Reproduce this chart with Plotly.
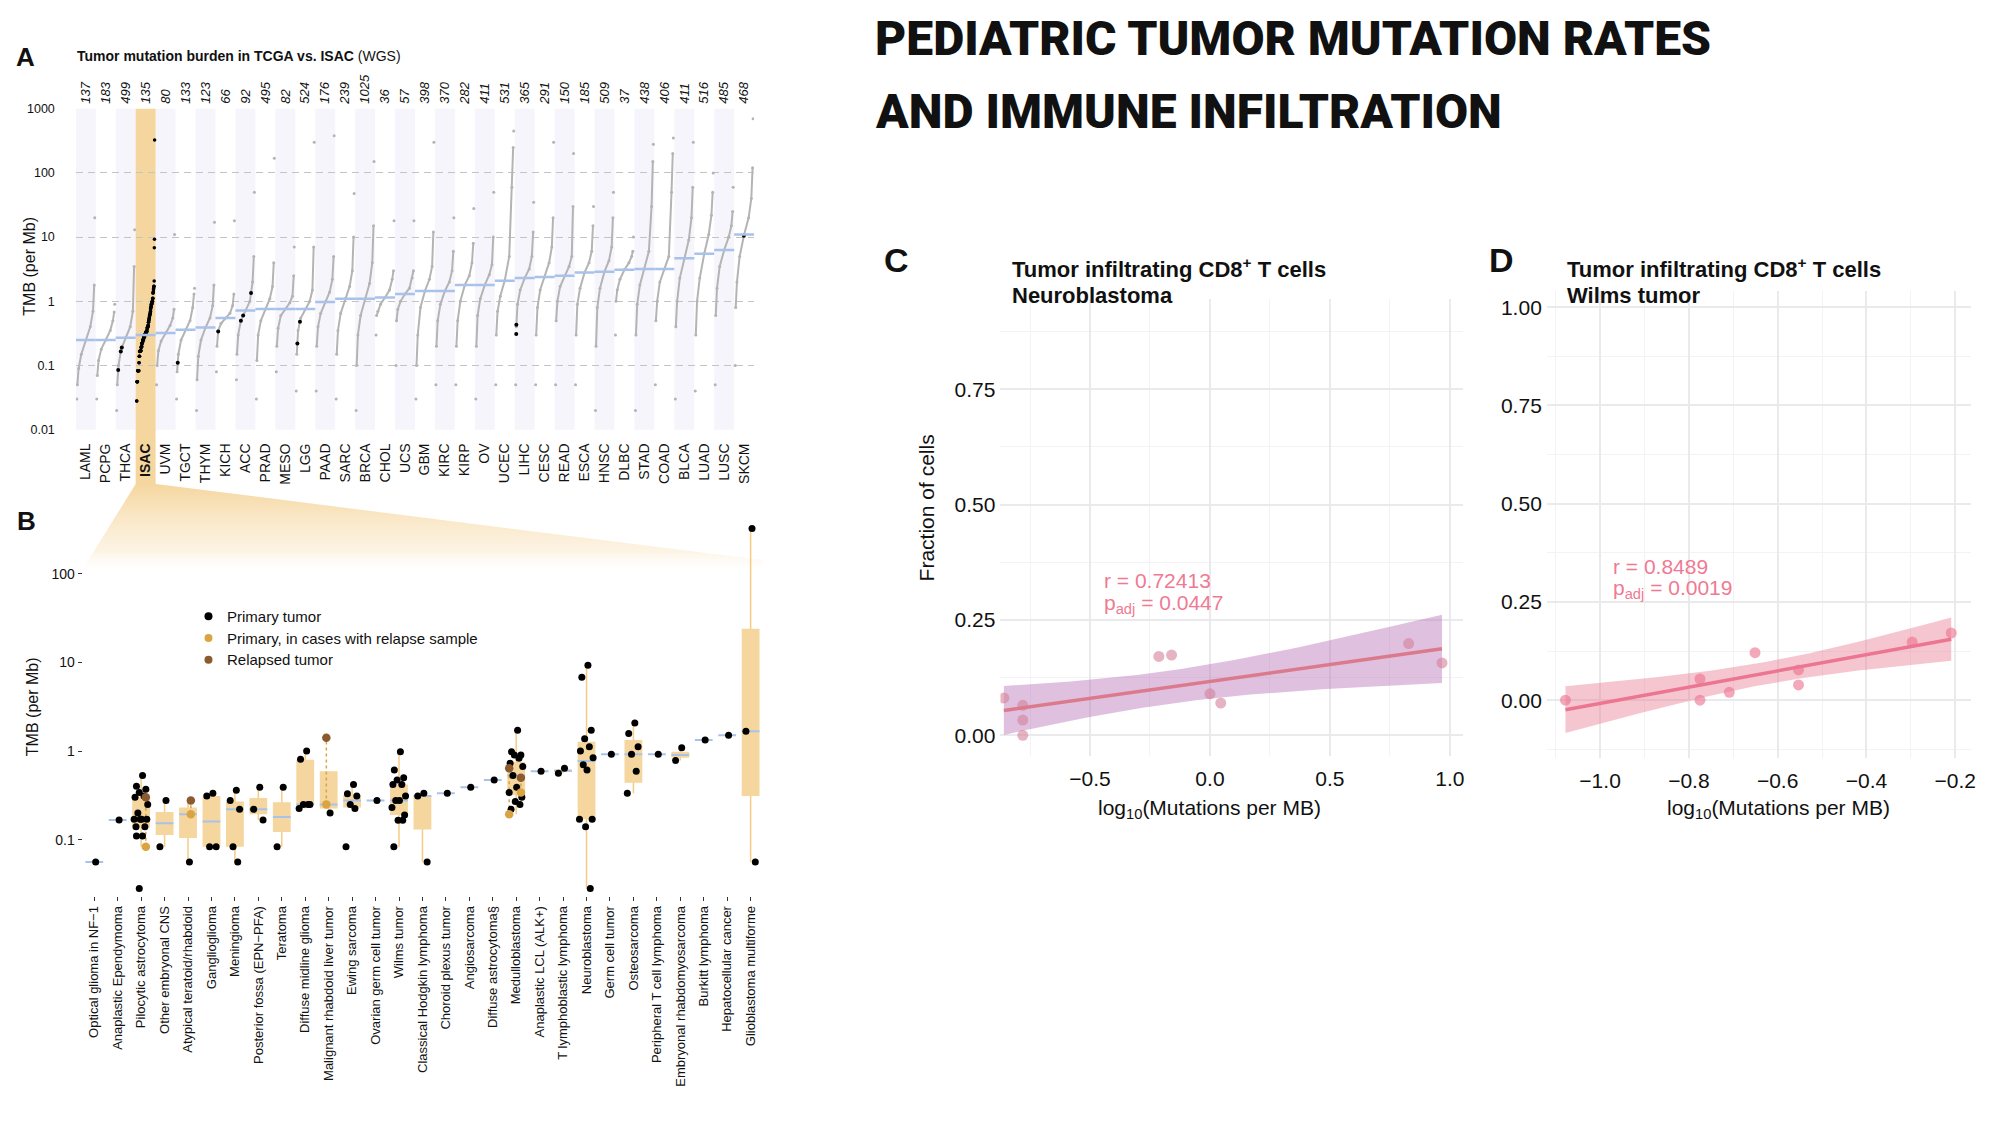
import numpy as np
import plotly.graph_objects as go

W, H = 2000, 1132

# ---------------- Panel A data (TCGA vs ISAC) ----------------
TCGA_CODES = ["LAML", "PCPG", "THCA", "ISAC", "UVM", "TGCT", "THYM", "KICH", "ACC", "PRAD",
              "MESO", "LGG", "PAAD", "SARC", "BRCA", "CHOL", "UCS", "GBM", "KIRC", "KIRP",
              "OV", "UCEC", "LIHC", "CESC", "READ", "ESCA", "HNSC", "DLBC", "STAD", "COAD",
              "BLCA", "LUAD", "LUSC", "SKCM"]
TCGA_COUNTS = [137, 183, 499, 135, 80, 133, 123, 66, 92, 495, 82, 524, 176, 239, 1025, 36, 57,
               398, 370, 282, 411, 531, 365, 291, 150, 185, 509, 37, 438, 406, 411, 516, 485, 468]
TCGA_MEDIANS = [0.25, 0.25, 0.27, 0.30, 0.32, 0.36, 0.39, 0.55, 0.72, 0.76, 0.76, 0.76, 0.98,
                1.1, 1.1, 1.15, 1.3, 1.45, 1.45, 1.8, 1.8, 2.1, 2.3, 2.4, 2.5, 2.8, 2.9, 3.1,
                3.2, 3.2, 4.7, 5.5, 6.3, 11]
# rank fractions at which the cohort quantiles below were read
QUANTILE_FRACS = [0, 0.03, 0.1, 0.25, 0.5, 0.75, 0.9, 0.97, 1.0]
TCGA_QUANTILES = [
    [0.03, 0.05, 0.09, 0.15, 0.25, 0.4, 0.7, 1.8, 20],       # LAML
    [0.03, 0.07, 0.12, 0.18, 0.25, 0.35, 0.5, 0.68, 0.9],    # PCPG
    [0.02, 0.05, 0.1, 0.18, 0.27, 0.4, 0.7, 3.5, 13],        # THCA
    None,                                                    # ISAC (from panel B samples)
    [0.05, 0.1, 0.17, 0.24, 0.32, 0.42, 0.55, 0.75, 11],     # UVM
    [0.03, 0.08, 0.15, 0.25, 0.36, 0.5, 0.8, 1.3, 1.6],      # TGCT
    [0.02, 0.06, 0.14, 0.25, 0.39, 0.55, 0.85, 1.8, 17],     # THYM
    [0.08, 0.2, 0.35, 0.45, 0.55, 0.65, 0.85, 1.3, 18],      # KICH
    [0.06, 0.15, 0.3, 0.5, 0.72, 1.0, 2.0, 5, 50],           # ACC
    [0.03, 0.12, 0.3, 0.5, 0.76, 1.1, 1.7, 4, 170],          # PRAD
    [0.08, 0.2, 0.38, 0.6, 0.76, 0.95, 1.2, 2.5, 7],         # MESO
    [0.04, 0.15, 0.35, 0.55, 0.76, 1.0, 1.5, 7, 300],        # LGG
    [0.04, 0.2, 0.4, 0.65, 0.98, 1.4, 2.2, 5, 380],          # PAAD
    [0.03, 0.15, 0.35, 0.65, 1.1, 1.7, 3, 10, 48],           # SARC
    [0.02, 0.1, 0.3, 0.6, 1.1, 1.9, 4, 15, 150],             # BRCA
    [0.3, 0.6, 0.7, 0.9, 1.15, 1.5, 2.2, 3, 18],             # CHOL
    [0.1, 0.5, 0.75, 1.0, 1.3, 1.6, 2.3, 3, 18],             # UCS
    [0.03, 0.1, 0.3, 0.8, 1.45, 2.2, 3.5, 12, 300],          # GBM
    [0.05, 0.2, 0.5, 0.9, 1.45, 2, 3, 6, 20],                # KIRC
    [0.05, 0.2, 0.5, 1.0, 1.8, 2.5, 4, 8, 28],               # KIRP
    [0.03, 0.2, 0.6, 1.1, 1.8, 2.6, 3.7, 10, 50],            # OV
    [0.05, 0.3, 0.7, 1.2, 2.1, 5, 60, 250, 450],             # UCEC
    [0.05, 0.4, 0.9, 1.5, 2.3, 3.2, 5, 12, 35],              # LIHC
    [0.05, 0.3, 0.8, 1.5, 2.4, 4, 7, 20, 300],               # CESC
    [0.05, 0.5, 1.0, 1.7, 2.5, 3.5, 5, 30, 200],             # READ
    [0.05, 0.3, 0.9, 1.6, 2.8, 4, 6, 15, 30],                # ESCA
    [0.02, 0.2, 0.8, 1.6, 2.9, 4.3, 7, 20, 50],              # HNSC
    [0.3, 1.0, 1.5, 2.2, 3.1, 4, 5, 6, 10],                  # DLBC
    [0.02, 0.3, 0.9, 1.8, 3.2, 6, 30, 150, 280],             # STAD
    [0.05, 0.5, 1.0, 2, 3.2, 5, 50, 200, 350],               # COAD
    [0.03, 0.4, 1.0, 2.3, 4.7, 9, 20, 60, 300],              # BLCA
    [0.04, 0.3, 1.0, 2.3, 5.5, 11, 22, 50, 100],             # LUAD
    [0.05, 0.6, 1.6, 3.5, 6.3, 10, 15, 25, 60],              # LUSC
    [0.1, 0.8, 2, 5, 11, 20, 40, 120, 700],                  # SKCM
]
PEDS_TCGA_CODES = ["THCA", "THCA", "THCA", "TGCT", "KICH", "ACC", "ACC", "ACC", "LGG", "LGG",
                   "LIHC", "LIHC", "SKCM"]
PEDS_TCGA_TMB = [0.085, 0.165, 0.19, 0.11, 0.34, 0.5, 0.6, 1.35, 0.22, 0.48, 0.31, 0.43, 10.5]

# ---------------- Panel B data (pediatric entities) ----------------
B_CATS = ["Optical glioma in NF\u22121", "Anaplastic Ependymoma", "Pilocytic astrocytoma",
          "Other embryonal CNS", "Atypical teratoid/rhabdoid", "Ganglioglioma", "Meningioma",
          "Posterior fossa (EPN\u2212PFA)", "Teratoma", "Diffuse midline glioma",
          "Malignant rhabdoid liver tumor", "Ewing sarcoma", "Ovarian germ cell tumor",
          "Wilms tumor", "Classical Hodgkin lymphoma", "Choroid plexus tumor", "Angiosarcoma",
          "Diffuse astrocytoma\u00a7", "Medulloblastoma", "Anaplastic LCL (ALK+)",
          "T lymphoblastic lymphoma", "Neuroblastoma", "Germ cell tumor", "Osteosarcoma",
          "Peripheral T cell lymphoma", "Embryonal rhabdomyosarcoma", "Burkitt lymphoma",
          "Hepatocellular cancer", "Glioblastoma multiforme"]
B_PRIMARY = [
    [0.056],
    [0.167],
    [0.53, 0.40, 0.37, 0.34, 0.31, 0.30, 0.25, 0.20, 0.17, 0.17, 0.17, 0.17, 0.14, 0.14,
     0.11, 0.11, 0.083, 0.028],
    [0.277, 0.083],
    [0.056],
    [0.334, 0.31, 0.083, 0.083],
    [0.36, 0.277, 0.22, 0.083, 0.056],
    [0.39, 0.22, 0.167],
    [0.39, 0.083],
    [1.0, 0.81, 0.25, 0.25, 0.25, 0.225],
    [0.2],
    [0.42, 0.33, 0.31, 0.25, 0.225, 0.083],
    [0.277],
    [0.98, 0.61, 0.5, 0.47, 0.42, 0.42, 0.31, 0.277, 0.277, 0.23, 0.19, 0.165, 0.165, 0.083],
    [0.334, 0.31, 0.056],
    [0.334],
    [0.39],
    [0.47],
    [1.72, 0.98, 0.9, 0.9, 0.83, 0.73, 0.67, 0.53, 0.39, 0.34, 0.3, 0.27, 0.25, 0.22],
    [0.59],
    [0.64, 0.56],
    [9.3, 6.8, 1.72, 1.38, 1.12, 1.0, 0.84, 0.7, 0.61, 0.17, 0.17, 0.14, 0.028],
    [0.92],
    [2.07, 1.58, 1.12, 0.92, 0.59, 0.334],
    [0.92],
    [1.09, 0.78],
    [1.33],
    [1.51],
    [325, 1.67, 0.056],
]
B_PAIR_CATS = ["Pilocytic astrocytoma", "Atypical teratoid/rhabdoid",
               "Malignant rhabdoid liver tumor", "Medulloblastoma", "Medulloblastoma"]
B_PAIR_PRIMARY = [0.083, 0.193, 0.25, 0.193, 0.34]
B_PAIR_RELAPSE = [0.30, 0.277, 1.41, 0.64, 0.50]
B_Q1 = [None, None, 0.137, 0.113, 0.104, 0.083, 0.083, 0.193, 0.122, 0.25, 0.225, 0.23, None,
        0.19, 0.13, None, None, None, 0.32, None, 0.58, 0.17, None, 0.44, None, 0.84, None,
        None, 0.31]
B_MED = [0.056, 0.167, 0.167, 0.153, 0.193, 0.16, 0.22, 0.22, 0.18, 0.25, 0.25, 0.277, 0.277,
         0.277, 0.31, 0.334, 0.39, 0.47, 0.53, 0.59, 0.6, 0.77, 0.92, 0.92, 0.92, 0.9, 1.33,
         1.51, 1.67]
B_Q3 = [None, None, 0.30, 0.205, 0.23, 0.31, 0.27, 0.296, 0.265, 0.80, 0.59, 0.32, None,
        0.42, 0.316, None, None, None, 0.75, None, 0.62, 1.27, None, 1.33, None, 0.98, None,
        None, 24]
B_LO = [None, None, 0.083, 0.083, 0.056, 0.083, 0.056, 0.167, 0.083, 0.225, 0.2, 0.225, None,
        0.083, 0.056, None, None, None, 0.193, None, 0.56, 0.028, None, 0.334, None, 0.78,
        None, None, 0.056]
B_HI = [None, None, 0.53, 0.277, 0.277, 0.334, 0.36, 0.39, 0.39, 1.0, 0.59, 0.42, None,
        0.98, 0.334, None, None, None, 1.72, None, 0.64, 9.3, None, 2.07, None, 1.09, None,
        None, 325]
B_LEGEND = ["Primary tumor", "Primary, in cases with relapse sample", "Relapsed tumor"]

# ---------------- Panels C / D data ----------------
C_LOGTMB = [-0.859, -0.78, -0.78, -0.78, -0.213, -0.16, 0.0, 0.045, 0.828, 0.967]
C_FRAC = [0.081, 0.065, 0.033, 0.0, 0.171, 0.174, 0.090, 0.070, 0.199, 0.157]
C_STATS = ["r = 0.72413", "p<sub>adj</sub> = 0.0447"]
D_LOGTMB = [-1.078, -0.775, -0.775, -0.709, -0.651, -0.553, -0.553, -0.297, -0.209]
D_FRAC = [0.0, 0.054, 0.0, 0.02, 0.121, 0.077, 0.039, 0.148, 0.171]
D_STATS = ["r = 0.8489", "p<sub>adj</sub> = 0.0019"]

# ---------------- styling ----------------
SANS = "Liberation Sans, Arial, Helvetica, sans-serif"
NARROW = "Liberation Sans Narrow, Arial Narrow, Liberation Sans, sans-serif"
ORANGE = "#F5D69E"
STRIPE = "#F6F5FB"
BLUE = "#A8C2EA"
GRAY = "#B4B4B4"
GOLD = "#D9A441"
BROWN = "#8B5A2E"
PINK_TXT = "#F07A93"

# pixel layout
A_L, A_R, A_T, A_B = 76, 756, 103, 428
B_L, B_R, B_T, B_B = 82.75, 764.25, 520, 900
C_L, C_R, C_T, C_B = 1003, 1467, 296, 758
D_L, D_R, D_T, D_B = 1550.7, 1975.7, 288, 760


def fx(p):
    return p / W


def fy(p):
    return 1 - p / H


fig = go.Figure()

# ---------- canvas (pixel) layer: ISAC band + zoom trapezoid + legend markers ----------
ncol = len(TCGA_CODES)
colw = (A_R - A_L) / ncol
isac_i = TCGA_CODES.index("ISAC")
bx0, bx1 = A_L + isac_i * colw, A_L + (isac_i + 1) * colw
band_bottom = 483
fig.add_trace(go.Scatter(x=[bx0, bx1, bx1, bx0, bx0], y=[A_T, A_T, band_bottom, band_bottom, A_T],
                         fill="toself", fillcolor=ORANGE, line=dict(width=0), mode="lines",
                         hoverinfo="skip", xaxis="x", yaxis="y"))
trap_y_bot = 574
fig.add_trace(go.Scatter(x=[bx0, bx1, B_R, B_R, 80, bx0],
                         y=[band_bottom, band_bottom, 560, trap_y_bot, trap_y_bot, band_bottom],
                         fill="toself", mode="lines", line=dict(width=0),
                         fillgradient=dict(type="vertical",
                                           colorscale=[[0, "rgba(255,255,255,0)"],
                                                       [0.25, "rgba(250,232,200,0.5)"],
                                                       [1, "rgba(245,214,158,1)"]]),
                         hoverinfo="skip", xaxis="x", yaxis="y"))
leg_colors = ["#000000", GOLD, BROWN]
leg_y = [617, 639, 661]
fig.add_trace(go.Scatter(x=[209] * 3, y=leg_y, mode="markers",
                         marker=dict(size=8, color=leg_colors), hoverinfo="skip",
                         xaxis="x", yaxis="y"))

# ---------- Panel A ----------
F = np.array(QUANTILE_FRACS)
lx, ly, mx_, my_ = [], [], [], []
for i, q in enumerate(TCGA_QUANTILES):
    if q is None:
        continue
    xs = i - 0.45 + 0.9 * F
    lx += list(xs[1:8]) + [None]
    ly += list(q[1:8]) + [None]
    mx_ += list(xs)
    my_ += list(q)
fig.add_trace(go.Scatter(x=lx, y=ly, mode="lines", line=dict(color=GRAY, width=2),
                         hoverinfo="skip", xaxis="x2", yaxis="y2"))
fig.add_trace(go.Scatter(x=mx_, y=my_, mode="markers", marker=dict(color=GRAY, size=3),
                         hoverinfo="skip", xaxis="x2", yaxis="y2"))

# ISAC column: all pediatric samples of panel B, sorted
pooled = sorted([v for lst in B_PRIMARY for v in lst] + B_PAIR_PRIMARY + B_PAIR_RELAPSE)
n = len(pooled)
isac_x = [isac_i - 0.45 + 0.9 * k / (n - 1) for k in range(n)]
fig.add_trace(go.Scatter(x=isac_x, y=pooled, mode="markers", marker=dict(color="black", size=3.5),
                         hoverinfo="skip", xaxis="x2", yaxis="y2"))

# pediatric samples placed in TCGA cohorts
px_, py_ = [], []
for code, v in zip(PEDS_TCGA_CODES, PEDS_TCGA_TMB):
    i = TCGA_CODES.index(code)
    q = np.log10(TCGA_QUANTILES[i][1:8])
    frac = np.interp(np.log10(v), q, F[1:8])
    px_.append(i - 0.45 + 0.9 * frac)
    py_.append(v)
fig.add_trace(go.Scatter(x=px_, y=py_, mode="markers", marker=dict(color="black", size=4),
                         hoverinfo="skip", xaxis="x2", yaxis="y2"))

# medians
medx, medy = [], []
for i, m in enumerate(TCGA_MEDIANS):
    medx += [i - 0.5, i + 0.5, None]
    medy += [m, m, None]
fig.add_trace(go.Scatter(x=medx, y=medy, mode="lines", line=dict(color=BLUE, width=2.5),
                         hoverinfo="skip", xaxis="x2", yaxis="y2"))
# dummy for top axis
fig.add_trace(go.Scatter(x=[0], y=[1], mode="markers", marker=dict(opacity=0),
                         hoverinfo="skip", xaxis="x3", yaxis="y2"))

# ---------- Panel B ----------
BW = 0.38
wx, wy = [], []
boxx, boxy = [], []
bmx, bmy = [], []
for k in range(len(B_CATS)):
    if B_LO[k] is not None:
        wx += [k, k, None]
        wy += [B_LO[k], B_HI[k], None]
    if B_Q1[k] is not None:
        boxx += [k - BW, k + BW, k + BW, k - BW, k - BW, None]
        boxy += [B_Q1[k], B_Q1[k], B_Q3[k], B_Q3[k], B_Q1[k], None]
    bmx += [k - BW, k + BW, None]
    bmy += [B_MED[k], B_MED[k], None]
fig.add_trace(go.Scatter(x=wx, y=wy, mode="lines", line=dict(color="#F7CB86", width=1.5),
                         hoverinfo="skip", xaxis="x4", yaxis="y4"))
fig.add_trace(go.Scatter(x=boxx, y=boxy, mode="lines", fill="toself", fillcolor=ORANGE,
                         line=dict(width=0, color=ORANGE), hoverinfo="skip",
                         xaxis="x4", yaxis="y4"))
fig.add_trace(go.Scatter(x=bmx, y=bmy, mode="lines", line=dict(color=BLUE, width=2),
                         hoverinfo="skip", xaxis="x4", yaxis="y4"))

PAIR_OFFSETS = [0.2, 0.12, -0.1, -0.3, 0.2]
dlx, dly, gx, gy, rx, ry = [], [], [], [], [], []
for c, p, r, off in zip(B_PAIR_CATS, B_PAIR_PRIMARY, B_PAIR_RELAPSE, PAIR_OFFSETS):
    k = B_CATS.index(c)
    dlx += [k + off, k + off, None]
    dly += [p, r, None]
    gx.append(k + off)
    gy.append(p)
    rx.append(k + off)
    ry.append(r)
fig.add_trace(go.Scatter(x=dlx, y=dly, mode="lines", line=dict(color=GOLD, width=1.5, dash="dot"),
                         hoverinfo="skip", xaxis="x4", yaxis="y4"))

JIT = [0.06, -0.2, 0.2, -0.08, 0.12, -0.26, 0.28, -0.14, 0.02, -0.3, 0.24, -0.04, 0.16, -0.22]
kx, ky = [], []
for k, lst in enumerate(B_PRIMARY):
    for j, v in enumerate(lst):
        kx.append(k + JIT[j % len(JIT)])
        ky.append(v)
fig.add_trace(go.Scatter(x=kx, y=ky, mode="markers", marker=dict(color="black", size=7),
                         hoverinfo="skip", xaxis="x4", yaxis="y4"))
fig.add_trace(go.Scatter(x=gx, y=gy, mode="markers", marker=dict(color=GOLD, size=8.5),
                         hoverinfo="skip", xaxis="x4", yaxis="y4"))
fig.add_trace(go.Scatter(x=rx, y=ry, mode="markers", marker=dict(color=BROWN, size=8.5),
                         hoverinfo="skip", xaxis="x4", yaxis="y4"))


# ---------- Panels C & D ----------
def lm_band(xs, ys):
    xs = np.asarray(xs, float)
    ys = np.asarray(ys, float)
    nn = len(xs)
    b, a = np.polyfit(xs, ys, 1)
    res = ys - (a + b * xs)
    s = np.sqrt(np.sum(res ** 2) / (nn - 2))
    tcrit = {7: 2.365, 8: 2.306, 9: 2.262}[nn - 2]
    g = np.linspace(xs.min(), xs.max(), 80)
    fit = a + b * g
    se = s * np.sqrt(1 / nn + (g - xs.mean()) ** 2 / np.sum((xs - xs.mean()) ** 2))
    return g, fit, fit - tcrit * se, fit + tcrit * se


for xs, ys, ax, bandc, linec, ptc in [
        (C_LOGTMB, C_FRAC, ("x5", "y5"), "rgba(170,92,172,0.38)", "#DB7A8C", "rgba(212,128,152,0.6)"),
        (D_LOGTMB, D_FRAC, ("x6", "y6"), "rgba(232,105,132,0.38)", "#EC7691", "rgba(236,112,142,0.6)")]:
    g, fit, lo, hi = lm_band(xs, ys)
    fig.add_trace(go.Scatter(x=list(g) + list(g[::-1]), y=list(hi) + list(lo[::-1]), fill="toself",
                             fillcolor=bandc, line=dict(width=0), mode="lines", hoverinfo="skip",
                             xaxis=ax[0], yaxis=ax[1]))
    fig.add_trace(go.Scatter(x=xs, y=ys, mode="markers", marker=dict(color=ptc, size=11),
                             hoverinfo="skip", xaxis=ax[0], yaxis=ax[1]))
    fig.add_trace(go.Scatter(x=g, y=fit, mode="lines", line=dict(color=linec, width=3.5),
                             hoverinfo="skip", xaxis=ax[0], yaxis=ax[1]))

# ---------- shapes (stripes in panel A) ----------
shapes = []
for i in range(ncol):
    if i % 2 == 0:
        shapes.append(dict(type="rect", xref="x2", yref="y2 domain", x0=i - 0.5, x1=i + 0.5,
                           y0=0, y1=1, fillcolor=STRIPE, line=dict(width=0), layer="below"))

# ---------- annotations ----------
anns = []


def ann(text, x, y, size, xanchor="left", yanchor="middle", color="#111", family=SANS,
        weight=None, angle=0):
    f = dict(size=size, color=color, family=family)
    if weight:
        f["weight"] = weight
    anns.append(dict(text=text, x=fx(x), y=fy(y), xref="paper", yref="paper", showarrow=False,
                     xanchor=xanchor, yanchor=yanchor, font=f, textangle=angle))


ann("PEDIATRIC TUMOR MUTATION RATES", 875, 32, 48, family="Roboto, Inter, sans-serif", weight=900)
ann("AND IMMUNE INFILTRATION", 875, 106, 48, family="Roboto, Inter, sans-serif", weight=900)
ann("<b>A</b>", 26, 51, 26, xanchor="center")
ann("<b>Tumor mutation burden in TCGA vs. ISAC</b> (WGS)", 75, 50, 14)
ann("TMB (per Mb)", 30, 262, 16, xanchor="center", angle=-90)
ann("<b>B</b>", 27, 520, 26, xanchor="center")
ann("TMB (per Mb)", 32, 708, 16, xanchor="center", angle=-90)
for t, yy in zip(B_LEGEND, leg_y):
    ann(t, 226, yy, 15)
ann("<b>C</b>", 899, 256, 34, xanchor="center")
ann("<b>Tumor infiltrating CD8<sup>+</sup> T cells</b>", 1013, 264, 22)
ann("<b>Neuroblastoma</b>", 1013, 292, 22)
ann("Fraction of cells", 929, 507, 21, xanchor="center", angle=-90)
ann("log<sub>10</sub>(Mutations per MB)", 1213, 812, 21, xanchor="center")
ann(C_STATS[0], 1105, 581, 21, color=PINK_TXT)
ann(C_STATS[1], 1105, 604, 21, color=PINK_TXT)
ann("<b>D</b>", 1505, 256, 34, xanchor="center")
ann("<b>Tumor infiltrating CD8<sup>+</sup> T cells</b>", 1569, 264, 22)
ann("<b>Wilms tumor</b>", 1569, 292, 22)
ann("log<sub>10</sub>(Mutations per MB)", 1783, 812, 21, xanchor="center")
ann(D_STATS[0], 1615, 566, 21, color=PINK_TXT)
ann(D_STATS[1], 1615, 589, 21, color=PINK_TXT)

# ---------- layout ----------
tick_codes = ["<b>ISAC</b>" if c == "ISAC" else c for c in TCGA_CODES]
grid_major = "#EAEAEC"
grid_minor = "#F3F3F5"
fig.update_layout(
    width=W, height=H, margin=dict(l=0, r=0, t=0, b=0), autosize=False,
    paper_bgcolor="white", plot_bgcolor="rgba(0,0,0,0)", showlegend=False,
    font=dict(family=SANS, color="#111"),
    shapes=shapes, annotations=anns,
    xaxis=dict(domain=[0, 1], range=[0, W], visible=False, fixedrange=True),
    yaxis=dict(domain=[0, 1], range=[H, 0], visible=False, fixedrange=True),
    xaxis2=dict(domain=[fx(A_L), fx(A_R)], range=[-0.5, ncol - 0.5], anchor="y2",
                tickmode="array", tickvals=list(range(ncol)), ticktext=tick_codes,
                tickangle=-90, tickfont=dict(size=14, family=SANS, color="#111"),
                showgrid=False, zeroline=False, showline=False, ticks="",
                ticklabelstandoff=10),
    xaxis3=dict(overlaying="x2", side="top", anchor="y2", range=[-0.5, ncol - 0.5],
                tickmode="array", tickvals=list(range(ncol)),
                ticktext=[f"<i>{c}</i>" for c in TCGA_COUNTS], tickangle=-90,
                tickfont=dict(size=13, family=SANS, color="#111"),
                showgrid=False, zeroline=False, showline=False, ticks="",
                ticklabelstandoff=4),
    yaxis2=dict(domain=[fy(A_B), fy(A_T)], type="log", range=[-2, 3], anchor="x2",
                tickmode="array", tickvals=[0.01, 0.1, 1, 10, 100, 1000],
                ticktext=["0.01", "0.1", "1", "10", "100", "1000"],
                tickfont=dict(size=12.5, family=NARROW, color="#111"),
                showgrid=True, gridcolor="#C4C4C4", gridwidth=1, griddash="7px,5px",
                zeroline=False, showline=False, ticks="", ticklabelstandoff=20),
    xaxis4=dict(domain=[fx(B_L), fx(B_R)], range=[-0.5, len(B_CATS) - 0.5], anchor="y4",
                tickmode="array", tickvals=list(range(len(B_CATS))), ticktext=B_CATS,
                tickangle=-90, tickfont=dict(size=13, family=SANS, color="#111"),
                showgrid=False, zeroline=False, showline=False, ticks="outside",
                ticklen=4, tickcolor="#333", tickwidth=1),
    yaxis4=dict(domain=[fy(B_B), fy(B_T)], type="log", range=[-1.635, 2.602], anchor="x4",
                tickmode="array", tickvals=[0.1, 1, 10, 100], ticktext=["0.1", "1", "10", "100"],
                tickfont=dict(size=14, family=SANS, color="#111"),
                showgrid=False, zeroline=False, showline=False, ticks="outside",
                ticklen=4, tickcolor="#333", tickwidth=1),
    xaxis5=dict(domain=[fx(C_L), fx(C_R)], range=[-0.873, 1.056], anchor="y5",
                tickmode="array", tickvals=[-0.5, 0, 0.5, 1.0], tickformat=".1f",
                tickfont=dict(size=21, family=SANS, color="#111"),
                showgrid=True, gridcolor=grid_major, gridwidth=2.2, zeroline=False,
                showline=False, ticks="", ticklabelstandoff=8,
                minor=dict(tickvals=[-0.75, -0.25, 0.25, 0.75], showgrid=True,
                           gridcolor=grid_minor, gridwidth=1.2, ticks="")),
    yaxis5=dict(domain=[fy(C_B), fy(C_T)], range=[-0.044, 0.945], anchor="x5",
                tickmode="array", tickvals=[0, 0.25, 0.5, 0.75], tickformat=".2f",
                tickfont=dict(size=21, family=SANS, color="#111"),
                showgrid=True, gridcolor=grid_major, gridwidth=2.2, zeroline=False,
                showline=False, ticks="", ticklabelstandoff=4,
                minor=dict(tickvals=[0.125, 0.375, 0.625, 0.875], showgrid=True,
                           gridcolor=grid_minor, gridwidth=1.2, ticks="")),
    xaxis6=dict(domain=[fx(D_L), fx(D_R)], range=[-1.12, -0.165], anchor="y6",
                tickmode="array", tickvals=[-1.0, -0.8, -0.6, -0.4, -0.2], tickformat=".1f",
                tickfont=dict(size=21, family=SANS, color="#111"),
                showgrid=True, gridcolor=grid_major, gridwidth=2.2, zeroline=False,
                showline=False, ticks="", ticklabelstandoff=8,
                minor=dict(tickvals=[-1.1, -0.9, -0.7, -0.5, -0.3], showgrid=True,
                           gridcolor=grid_minor, gridwidth=1.2, ticks="")),
    yaxis6=dict(domain=[fy(D_B), fy(D_T)], range=[-0.146, 1.04], anchor="x6",
                tickmode="array", tickvals=[0, 0.25, 0.5, 0.75, 1.0], tickformat=".2f",
                tickfont=dict(size=21, family=SANS, color="#111"),
                showgrid=True, gridcolor=grid_major, gridwidth=2.2, zeroline=False,
                showline=False, ticks="", ticklabelstandoff=4,
                minor=dict(tickvals=[-0.125, 0.125, 0.375, 0.625, 0.875], showgrid=True,
                           gridcolor=grid_minor, gridwidth=1.2, ticks="")),
)

fig.write_html("out.html", include_plotlyjs=True, full_html=True,
               config={"displayModeBar": False},
               post_script="document.body.style.margin='0';document.body.style.overflow='hidden';")
